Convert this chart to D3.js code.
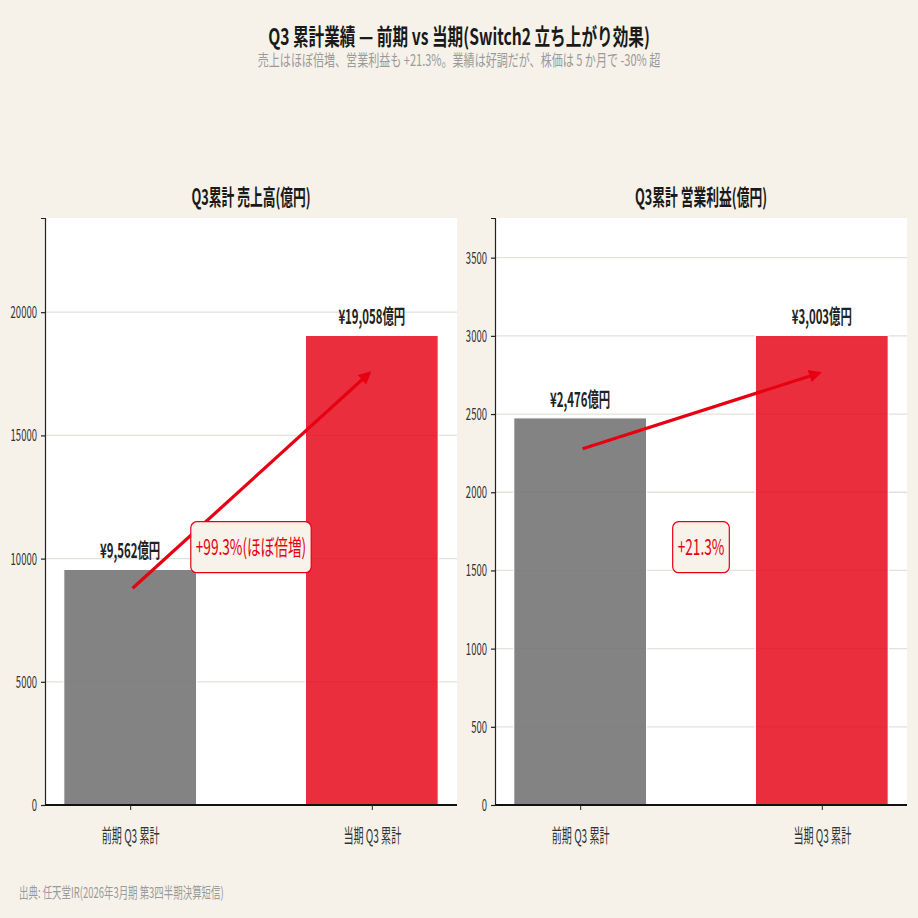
<!DOCTYPE html>
<html>
<head>
<meta charset="utf-8">
<script src="https://cdn.jsdelivr.net/npm/d3@7"></script>
<style>
  html, body { margin: 0; padding: 0; background: #F6F2EA; }
  text { font-family: "Noto Sans CJK JP", "Noto Sans", sans-serif; }
</style>
</head>
<body>
<svg id="chart" width="918" height="918"></svg>
<script>
// データ
const periods = ["前期 Q3 累計", "当期 Q3 累計"];
const sales = [9562, 19058];       // 売上高（億円）
const opIncome = [2476, 3003];     // 営業利益（億円）
const salesTicks = [0, 5000, 10000, 15000, 20000];
const opTicks = [0, 500, 1000, 1500, 2000, 2500, 3000, 3500];
const growthLabels = ["+99.3%(ほぼ倍増)", "+21.3%"];
const panelTitles = ["Q3累計 売上高(億円)", "Q3累計 営業利益(億円)"];

const W = 918, H = 918;
const svg = d3.select("#chart");
svg.append("rect").attr("width", W).attr("height", H).attr("fill", "#F6F2EA");

// テキストを横方向に圧縮（細長い書体の再現）
function squeeze(sel, k) {
  sel.each(function() {
    const len = this.getComputedTextLength();
    d3.select(this).attr("textLength", len * k).attr("lengthAdjust", "spacingAndGlyphs");
  });
  return sel;
}

const defs = svg.append("defs");
defs.append("marker")
  .attr("id", "arrowhead")
  .attr("viewBox", "0 0 10 10")
  .attr("refX", 8).attr("refY", 5)
  .attr("markerWidth", 4).attr("markerHeight", 4)
  .attr("orient", "auto")
  .append("path")
    .attr("d", "M0,0 L10,5 L0,10 z")
    .attr("fill", "#E60012");

// タイトル
squeeze(svg.append("text")
  .attr("x", W / 2).attr("y", 45)
  .attr("text-anchor", "middle")
  .attr("font-size", "23px").attr("font-weight", "bold").attr("fill", "#1a1a1a")
  .text("Q3 累計業績 — 前期 vs 当期(Switch2 立ち上がり効果)"), 0.68);
squeeze(svg.append("text")
  .attr("x", W / 2).attr("y", 66)
  .attr("text-anchor", "middle")
  .attr("font-size", "16px").attr("fill", "#9a9a9a")
  .text("売上はほぼ倍増、営業利益も +21.3%。業績は好調だが、株価は 5 か月で -30% 超"), 0.69);

// 出典
squeeze(svg.append("text")
  .attr("x", 19).attr("y", 898)
  .attr("font-size", "15px").attr("fill", "#9a9a9a")
  .text("出典: 任天堂IR(2026年3月期 第3四半期決算短信)"), 0.63);

function drawPanel(left, values, ticks, title, growth) {
  const top = 218, bottom = 805, right = left + 412;
  const g = svg.append("g");

  const x = d3.scaleLinear().domain([-0.3525, 1.3525]).range([left, right]);
  const y = d3.scaleLinear().domain([0, d3.max(values) * 1.25]).range([bottom, top]);
  const barW = x(0.55) - x(0);

  g.append("rect")
    .attr("x", left).attr("y", top)
    .attr("width", right - left).attr("height", bottom - top)
    .attr("fill", "#ffffff");

  // グリッド
  g.append("g").selectAll("line")
    .data(ticks.filter(d => d > 0))
    .join("line")
      .attr("x1", left).attr("x2", right)
      .attr("y1", d => y(d)).attr("y2", d => y(d))
      .attr("stroke", "#E4E1DA").attr("stroke-width", 1.3);

  // 棒
  g.append("g").selectAll("rect")
    .data(values)
    .join("rect")
      .attr("x", (d, i) => x(i) - barW / 2)
      .attr("y", d => y(d))
      .attr("width", barW)
      .attr("height", d => bottom - y(d))
      .attr("fill", (d, i) => i === 0 ? "#727272" : "#E60012")
      .attr("fill-opacity", (d, i) => i === 0 ? 0.88 : 0.82)
      .attr("stroke", "#ffffff").attr("stroke-width", 1.2);

  // 値ラベル
  g.append("g").selectAll("text")
    .data(values)
    .join("text")
      .attr("x", (d, i) => x(i))
      .attr("y", d => y(d) - 11)
      .attr("text-anchor", "middle")
      .attr("font-size", "20px").attr("font-weight", "bold").attr("fill", "#222")
      .text(d => "¥" + d3.format(",")(d) + "億円")
      .call(squeeze, 0.57);

  // 矢印
  g.append("line")
    .attr("x1", x(0.01)).attr("y1", y(values[0] * 0.92))
    .attr("x2", x(0.99)).attr("y2", y(values[1] * 0.92))
    .attr("stroke", "#E60012").attr("stroke-width", 3.2)
    .attr("marker-end", "url(#arrowhead)");

  // 伸び率ボックス
  const ann = g.append("g");
  const cy = y(values[1] * 0.55);
  const t = ann.append("text")
    .attr("x", x(0.5)).attr("y", cy + 8)
    .attr("text-anchor", "middle")
    .attr("font-size", "22px").attr("fill", "#E60012")
    .text(growth);
  squeeze(t, 0.62);
  const tw = +t.attr("textLength");
  ann.insert("rect", "text")
    .attr("x", x(0.5) - tw / 2 - 5).attr("y", cy - 25)
    .attr("width", tw + 10).attr("height", 51)
    .attr("rx", 6)
    .attr("fill", "#F8F3EA").attr("stroke", "#E60012").attr("stroke-width", 1.2);

  // 軸
  const yAxis = g.append("g")
    .attr("transform", `translate(${left},0)`)
    .call(d3.axisLeft(y).tickValues(ticks).tickFormat(d3.format("d")).tickSize(4).tickPadding(4));
  yAxis.select(".domain").attr("stroke", "#222").attr("stroke-width", 1.2);
  yAxis.selectAll(".tick line").attr("stroke", "#222").attr("stroke-width", 1.2);
  yAxis.selectAll("text").attr("font-size", "17px").attr("fill", "#333")
    .attr("font-family", "'Noto Sans CJK JP', sans-serif");
  squeeze(yAxis.selectAll("text"), 0.56);

  const xAxis = g.append("g")
    .attr("transform", `translate(0,${bottom})`)
    .call(d3.axisBottom(x).tickValues([0, 1]).tickFormat(i => periods[i]).tickSize(5));
  xAxis.select(".domain").attr("d", `M${left},0H${right}`).attr("stroke", "#111").attr("stroke-width", 2);
  xAxis.selectAll(".tick line").attr("stroke", "#222");
  xAxis.selectAll("text").attr("font-size", "19px").attr("fill", "#333")
    .attr("y", 38).attr("dy", 0)
    .attr("font-family", "'Noto Sans CJK JP', sans-serif");
  squeeze(xAxis.selectAll("text"), 0.53);

  // パネルタイトル
  squeeze(g.append("text")
    .attr("x", (left + right) / 2).attr("y", 205)
    .attr("text-anchor", "middle")
    .attr("font-size", "22px").attr("font-weight", "bold").attr("fill", "#1a1a1a")
    .text(title), 0.58);
}

drawPanel(45, sales, salesTicks, panelTitles[0], growthLabels[0]);
drawPanel(495, opIncome, opTicks, panelTitles[1], growthLabels[1]);
</script>
</body>
</html>
